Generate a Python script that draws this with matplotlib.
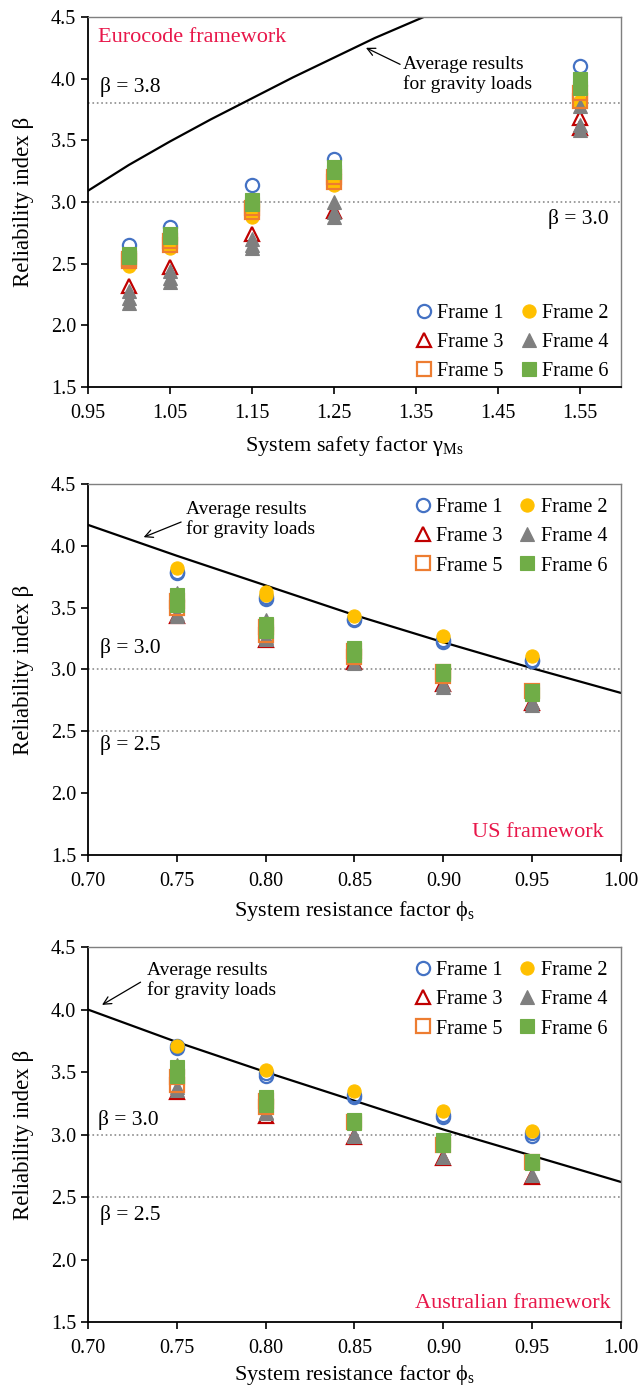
import matplotlib
matplotlib.use("Agg")
import matplotlib.pyplot as plt
from matplotlib.lines import Line2D

plt.rcParams['font.family'] = ['Liberation Serif', 'DejaVu Serif']
plt.rcParams['mathtext.fontset'] = 'stix'

# ---- Eurocode panel data ----
eu_x = [1.00, 1.05, 1.15, 1.25, 1.55]
eu_f1 = [[2.65], [2.80], [3.14], [3.35], [4.10]]
eu_f2 = [[2.48, 2.52], [2.63, 2.66], [2.88, 2.92], [3.14, 3.17], [3.80, 3.82]]
eu_f3 = [[2.32], [2.47], [2.74], [2.93], [3.68, 3.60]]
eu_f4 = [[2.28, 2.22, 2.18], [2.44, 2.38, 2.35], [2.70, 2.65, 2.63],
         [3.00, 2.92, 2.88], [3.78, 3.62, 3.58]]
eu_f5 = [[2.54, 2.52], [2.68, 2.65], [2.95, 2.92], [3.20, 3.16], [3.88, 3.82]]
eu_f6 = [[2.58, 2.55], [2.74, 2.72], [3.02, 2.98], [3.28, 3.24], [4.00, 3.92]]
eu_avg_x = [0.95, 1.00, 1.05, 1.10, 1.15, 1.20, 1.25, 1.30, 1.37]
eu_avg_y = [3.09, 3.30, 3.49, 3.67, 3.84, 4.01, 4.17, 4.33, 4.53]

# ---- US panel data ----
us_x = [0.75, 0.80, 0.85, 0.90, 0.95]
us_f1 = [[3.79, 3.78], [3.57, 3.59], [3.40, 3.41], [3.22, 3.24], [3.07, 3.08]]
us_f2 = [[3.82], [3.63, 3.60], [3.43], [3.27], [3.11]]
us_f3 = [[3.43], [3.24], [3.06], [2.88], [2.73]]
us_f4 = [[3.62, 3.45, 3.43], [3.40, 3.26, 3.25], [3.05], [2.88, 2.86], [2.74, 2.71]]
us_f5 = [[3.55, 3.50], [3.34, 3.28], [3.15, 3.10], [2.98, 2.95], [2.83]]
us_f6 = [[3.60, 3.52], [3.37, 3.31], [3.17, 3.12], [2.99, 2.96], [2.83, 2.80]]
us_avg_x = [0.70, 0.75, 0.80, 0.85, 0.90, 0.95, 1.00]
us_avg_y = [4.17, 3.92, 3.68, 3.44, 3.22, 3.01, 2.81]

# ---- Australian panel data ----
au_x = [0.75, 0.80, 0.85, 0.90, 0.95]
au_f1 = [[3.69, 3.71], [3.47, 3.49], [3.30, 3.32], [3.14, 3.16], [2.99, 3.01]]
au_f2 = [[3.71], [3.52], [3.35], [3.19], [3.03]]
au_f3 = [[3.34], [3.15], [2.98], [2.81], [2.66]]
au_f4 = [[3.56, 3.38, 3.36], [3.18, 3.17], [3.00, 2.99], [2.82], [2.68]]
au_f5 = [[3.46, 3.40], [3.27, 3.22], [3.10], [2.92], [2.78]]
au_f6 = [[3.54, 3.47], [3.30, 3.24], [3.12, 3.09], [2.96, 2.92], [2.79, 2.77]]
au_avg_x = [0.70, 0.75, 0.80, 0.85, 0.90, 0.95, 1.00]
au_avg_y = [4.00, 3.74, 3.50, 3.27, 3.04, 2.83, 2.62]

frame_names = ['Frame 1', 'Frame 2', 'Frame 3', 'Frame 4', 'Frame 5', 'Frame 6']
# marker, colour, filled
styles = [('o', '#4472C4', False), ('o', '#FFC000', True), ('^', '#C00000', False),
          ('^', '#7F7F7F', True), ('s', '#ED7D31', False), ('s', '#70AD47', True)]
red_text = '#E8174A'
FS = 14


def draw_frames(ax, xs, frames):
    handles = []
    for name, vals, (mk, col, filled) in zip(frame_names, frames, styles):
        px, py = [], []
        for x, vs in zip(xs, vals):
            for v in vs:
                px.append(x)
                py.append(v)
        face = col if filled else 'none'
        ax.plot(px, py, ls='none', marker=mk, ms=9.5, mfc=face, mec=col,
                mew=1.6 if not filled else 0.8)
        handles.append(Line2D([], [], ls='none', marker=mk, ms=9.5, mfc=face,
                              mec=col, mew=1.6 if not filled else 0.8, label=name))
    # column-major order so rows read Frame 1/2, 3/4, 5/6
    order = [0, 2, 4, 1, 3, 5]
    return [handles[i] for i in order]


def style_axes(ax, xlim, xticks, xlabel, lpad=8):
    ax.set_xlim(*xlim)
    ax.set_ylim(1.5, 4.5)
    ax.set_xticks(xticks)
    ax.set_yticks([1.5, 2.0, 2.5, 3.0, 3.5, 4.0, 4.5])
    ax.xaxis.set_major_formatter(plt.FormatStrFormatter('%.2f'))
    ax.yaxis.set_major_formatter(plt.FormatStrFormatter('%.1f'))
    ax.tick_params(labelsize=FS + 0.5, direction='out', length=5, width=1.2)
    ax.tick_params(axis='x', pad=7)
    for s in ['left', 'bottom']:
        ax.spines[s].set_linewidth(1.3)
        ax.spines[s].set_color('black')
    for s in ['top', 'right']:
        ax.spines[s].set_linewidth(1.0)
        ax.spines[s].set_color('#7F7F7F')
    ax.set_ylabel('Reliability index β', fontsize=16.5, labelpad=12)
    ax.set_xlabel(xlabel, fontsize=16, labelpad=lpad)


fig = plt.figure(figsize=(6.41, 13.9), dpi=100)
ax1 = fig.add_axes([0.137, 0.7216, 0.832, 0.2662])
ax2 = fig.add_axes([0.137, 0.3849, 0.832, 0.2669])
ax3 = fig.add_axes([0.137, 0.0489, 0.832, 0.2698])

leg_kw = dict(ncol=2, frameon=False, fontsize=FS + 0.5, handletextpad=-0.1, columnspacing=0.5,
              labelspacing=0.5, handlelength=1.5)

# ---- panel 1: Eurocode ----
ax1.axhline(3.8, color='#8C8C8C', ls=':', lw=1.2)
ax1.axhline(3.0, color='#8C8C8C', ls=':', lw=1.2)
ax1.plot(eu_avg_x, eu_avg_y, color='black', lw=1.6)
h = draw_frames(ax1, eu_x, [eu_f1, eu_f2, eu_f3, eu_f4, eu_f5, eu_f6])
style_axes(ax1, (0.95, 1.60), [0.95, 1.05, 1.15, 1.25, 1.35, 1.45, 1.55],
           'System safety factor γ$_{\\mathregular{Ms}}$')
ax1.text(0.963, 4.33, 'Eurocode framework', color=red_text, fontsize=16, va='center')
ax1.text(0.965, 3.93, 'β = 3.8', fontsize=15.5, va='center')
ax1.text(1.585, 2.86, 'β = 3.0', fontsize=15.5, va='center', ha='right')
ax1.annotate('Average results\nfor gravity loads', xy=(1.289, 4.25), xytext=(1.334, 4.03),
             fontsize=FS, va='center', ha='left', linespacing=1.15,
             arrowprops=dict(arrowstyle='->', color='black', lw=0.9, shrinkA=0, shrinkB=0,
                             relpos=(0, 0.75)))
ax1.legend(handles=h, loc='lower right', bbox_to_anchor=(0.987, 0.0), borderaxespad=-0.1, **leg_kw)

# ---- panel 2: US ----
ax2.axhline(3.0, color='#8C8C8C', ls=':', lw=1.2)
ax2.axhline(2.5, color='#8C8C8C', ls=':', lw=1.2)
ax2.plot(us_avg_x, us_avg_y, color='black', lw=1.6)
h = draw_frames(ax2, us_x, [us_f1, us_f2, us_f3, us_f4, us_f5, us_f6])
style_axes(ax2, (0.70, 1.00), [0.70, 0.75, 0.80, 0.85, 0.90, 0.95, 1.00],
           'System resistance factor ϕ$_{\\mathregular{s}}$', lpad=6)
ax2.text(0.707, 3.17, 'β = 3.0', fontsize=15.5, va='center')
ax2.text(0.707, 2.39, 'β = 2.5', fontsize=15.5, va='center')
ax2.text(0.990, 1.68, 'US framework', color=red_text, fontsize=16, va='center', ha='right')
ax2.annotate('Average results\nfor gravity loads', xy=(0.7314, 4.07), xytext=(0.7555, 4.21),
             fontsize=FS, va='center', ha='left', linespacing=1.15,
             arrowprops=dict(arrowstyle='->', color='black', lw=0.9, shrinkA=2, shrinkB=0,
                             relpos=(0, 0.5)))
ax2.legend(handles=h, loc='upper right', bbox_to_anchor=(1.0, 1.0), borderaxespad=0.3, **leg_kw)

# ---- panel 3: Australian ----
ax3.axhline(3.0, color='#8C8C8C', ls=':', lw=1.2)
ax3.axhline(2.5, color='#8C8C8C', ls=':', lw=1.2)
ax3.plot(au_avg_x, au_avg_y, color='black', lw=1.6)
h = draw_frames(ax3, au_x, [au_f1, au_f2, au_f3, au_f4, au_f5, au_f6])
style_axes(ax3, (0.70, 1.00), [0.70, 0.75, 0.80, 0.85, 0.90, 0.95, 1.00],
           'System resistance factor ϕ$_{\\mathregular{s}}$', lpad=4)
ax3.text(0.706, 3.12, 'β = 3.0', fontsize=15.5, va='center')
ax3.text(0.707, 2.36, 'β = 2.5', fontsize=15.5, va='center')
ax3.text(0.994, 1.65, 'Australian framework', color=red_text, fontsize=16, va='center', ha='right')
ax3.annotate('Average results\nfor gravity loads', xy=(0.708, 4.037), xytext=(0.7332, 4.23),
             fontsize=FS, va='center', ha='left', linespacing=1.15,
             arrowprops=dict(arrowstyle='->', color='black', lw=0.9, shrinkA=2, shrinkB=0,
                             relpos=(-0.03, 0.5)))
ax3.legend(handles=h, loc='upper right', bbox_to_anchor=(1.0, 1.0), borderaxespad=0.3, **leg_kw)

fig.savefig('out.png', dpi=100)
